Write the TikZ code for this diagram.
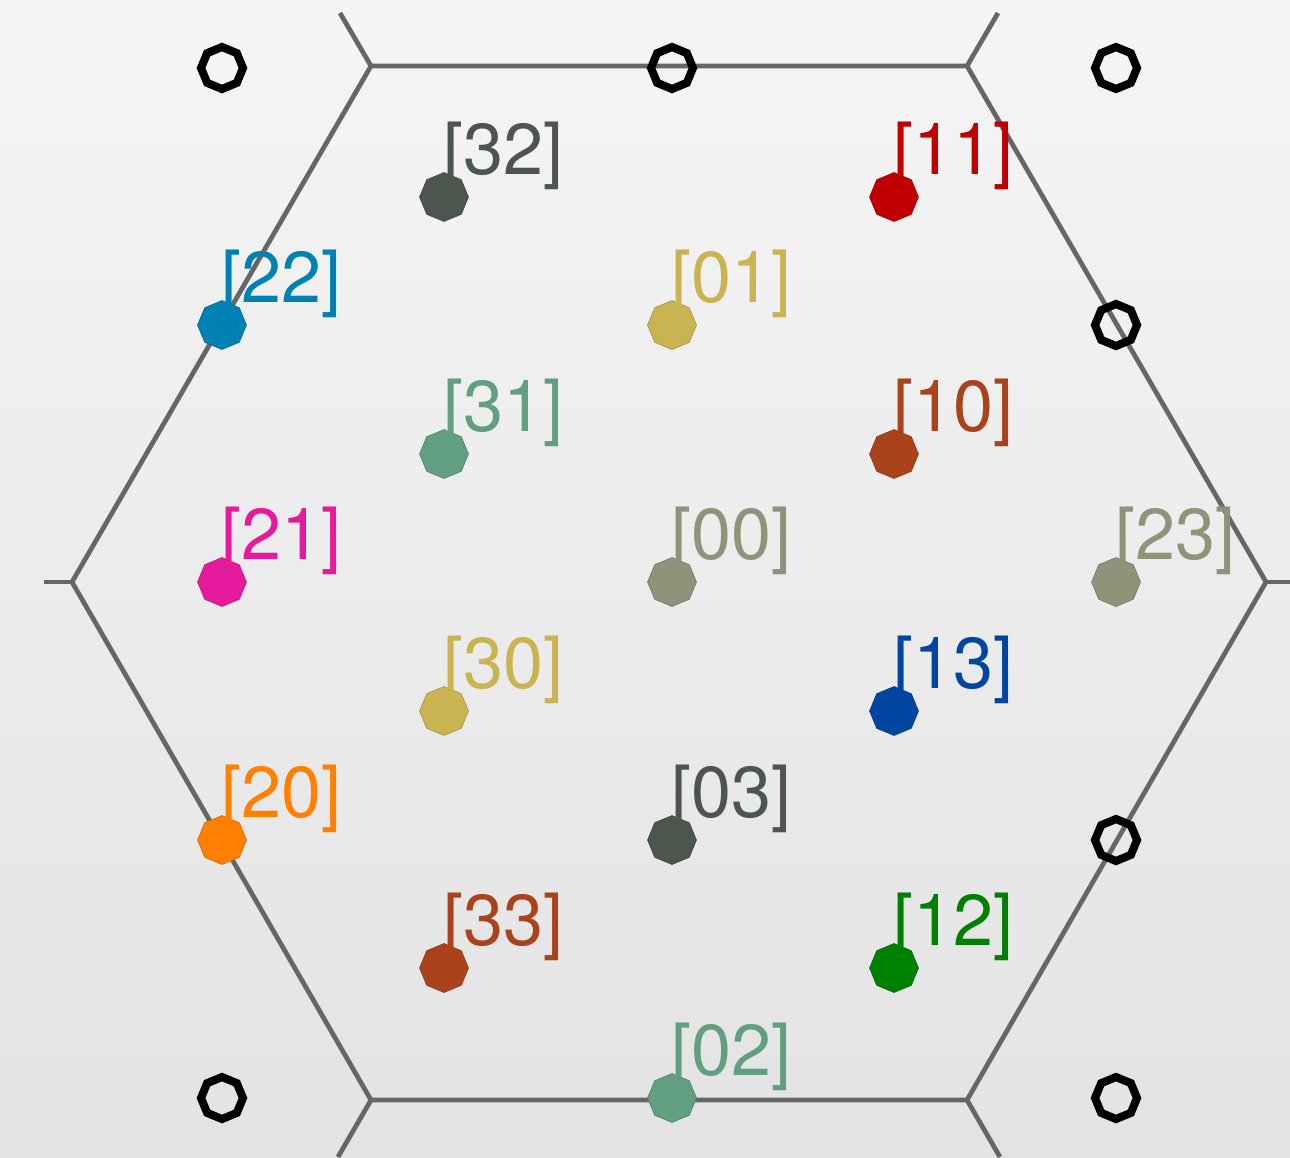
\documentclass[tikz,border=0pt]{standalone}
\usepackage{fontspec}
\setmainfont{TeX Gyre Heros}
\usetikzlibrary{shapes.geometric,positioning}
\definecolor{cslate}{HTML}{4C564F}
\definecolor{cred}{HTML}{C00000}
\definecolor{cteal}{HTML}{0081B4}
\definecolor{cmustard}{HTML}{C9B451}
\definecolor{csage}{HTML}{629E80}
\definecolor{crust}{HTML}{AA431B}
\definecolor{cpink}{HTML}{E61A9C}
\definecolor{colive}{HTML}{8D9479}
\definecolor{cnavy}{HTML}{0046A0}
\definecolor{corange}{HTML}{FF8000}
\definecolor{cgreen}{HTML}{008000}
\tikzset{
  % lattice site: filled octagon
  site/.style={shape=regular polygon, regular polygon sides=8, shape border rotate=22.5,
               minimum size=0.98cm, inner sep=0pt, fill=#1, draw=#1!80!black, line width=0.3pt},
  % empty site: open black octagon
  hole/.style={shape=regular polygon, regular polygon sides=8, shape border rotate=22.5,
               minimum size=0.84cm, inner sep=0pt, draw=black, line width=4.6pt},
  % site label
  lbl/.style={anchor=base west, inner sep=0pt, xshift=-0.02cm, yshift=0.46cm, text=#1,
              font=\fontsize{41}{49}\selectfont},
  % zone boundary
  zone/.style={draw=black!60, line width=2.7pt}
}
\begin{document}
\begin{tikzpicture}[x=0.02cm, y=-0.02cm]

% background
\shade[top color=black!4, bottom color=black!11] (0,0) rectangle (1290,1157);
\useasboundingbox (0,0) rectangle (1290,1157);

% ============== hexagonal zone ==============
\coordinate (hl)  at (72,582);
\coordinate (htl) at (371,66);
\coordinate (htr) at (967,66);
\coordinate (hr)  at (1266,582);
\coordinate (hbr) at (967,1100);
\coordinate (hbl) at (371,1100);
\draw[zone] (hl) -- (htl) -- (htr) -- (hr) -- (hbr) -- (hbl) -- cycle;

% stubs towards neighbouring zones
\coordinate (sl)  at (44,582);
\coordinate (stl) at (340,13);
\coordinate (str) at (998,13);
\coordinate (sr)  at (1290,582);
\coordinate (sbr) at (1000,1157);
\coordinate (sbl) at (338,1157);
\draw[zone] (hl) -- (sl);
\draw[zone] (htl) -- (stl);
\draw[zone] (htr) -- (str);
\draw[zone] (hr) -- (sr);
\draw[zone] (hbr) -- (sbr);
\draw[zone] (hbl) -- (sbl);

% ============== empty sites ==============
\node[hole] (e1) at (222,68) {};
\node[hole] (e2) at (672,68) {};
\node[hole] (e3) at (1116,68) {};
\node[hole] (e4) at (1116,325) {};
\node[hole] (e5) at (1116,840) {};
\node[hole] (e6) at (222,1098) {};
\node[hole] (e7) at (1116,1098) {};

% ============== occupied sites ==============
\node[site=cslate]   (d32) at (444,197) {};
\node[site=cred]     (d11) at (894,197) {};
\node[site=cteal]    (d22) at (222,325) {};
\node[site=cmustard] (d01) at (672,325) {};
\node[site=csage]    (d31) at (444,454) {};
\node[site=crust]    (d10) at (894,454) {};
\node[site=cpink]    (d21) at (222,582) {};
\node[site=colive]   (d00) at (672,582) {};
\node[site=colive]   (d23) at (1116,582) {};
\node[site=cmustard] (d30) at (444,711) {};
\node[site=cnavy]    (d13) at (894,711) {};
\node[site=corange]  (d20) at (222,840) {};
\node[site=cslate]   (d03) at (672,840) {};
\node[site=crust]    (d33) at (444,968) {};
\node[site=cgreen]   (d12) at (894,968) {};
\node[site=csage]    (d02) at (672,1098) {};

% labels
\node[lbl=cslate]   (t32) at (d32) {[32]};
\node[lbl=cred]     (t11) at (d11) {[11]};
\node[lbl=cteal]    (t22) at (d22) {[22]};
\node[lbl=cmustard] (t01) at (d01) {[01]};
\node[lbl=csage]    (t31) at (d31) {[31]};
\node[lbl=crust]    (t10) at (d10) {[10]};
\node[lbl=cpink]    (t21) at (d21) {[21]};
\node[lbl=colive]   (t00) at (d00) {[00]};
\node[lbl=colive]   (t23) at (d23) {[23]};
\node[lbl=cmustard] (t30) at (d30) {[30]};
\node[lbl=cnavy]    (t13) at (d13) {[13]};
\node[lbl=corange]  (t20) at (d20) {[20]};
\node[lbl=cslate]   (t03) at (d03) {[03]};
\node[lbl=crust]    (t33) at (d33) {[33]};
\node[lbl=cgreen]   (t12) at (d12) {[12]};
\node[lbl=csage]    (t02) at (d02) {[02]};

\end{tikzpicture}
\end{document}
